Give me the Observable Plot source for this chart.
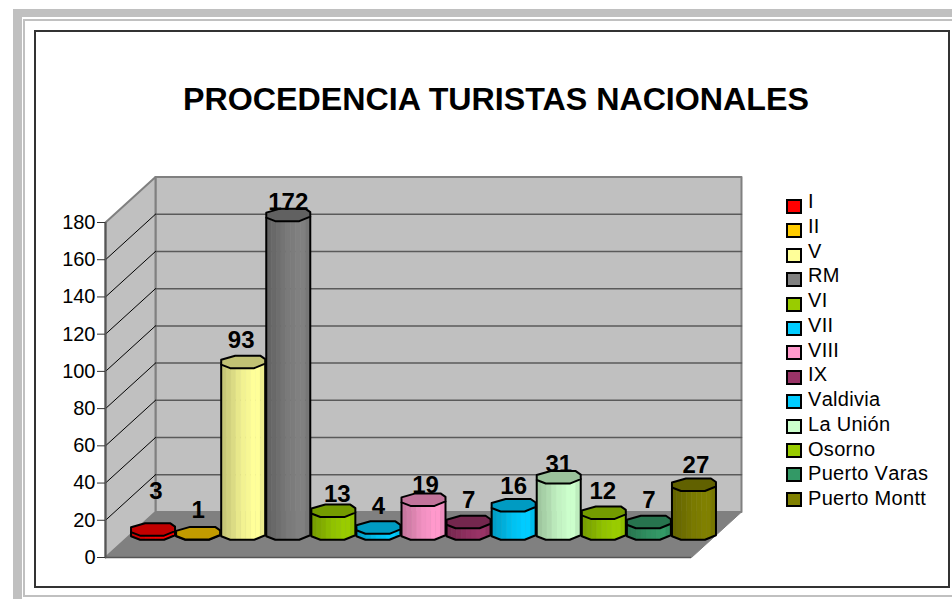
<!DOCTYPE html>
<html>
<head>
<meta charset="utf-8">
<script src="https://cdn.jsdelivr.net/npm/d3@7"></script>
<script src="https://cdn.jsdelivr.net/npm/@observablehq/plot@0.6"></script>
<style>
  html, body { margin: 0; padding: 0; background: #fff; }
  body { width: 952px; height: 599px; position: relative; overflow: hidden; font-family: "Liberation Sans", Arial, sans-serif; }
  .abs { position: absolute; box-sizing: border-box; }
  #chart svg { display: block; }
</style>
</head>
<body>
<div class="abs" style="left:13px;top:9px;width:939px;height:8px;background:#c0c0c0"></div>
<div class="abs" style="left:13px;top:9px;width:9px;height:590px;background:#c0c0c0"></div>
<div class="abs" style="left:23px;top:19px;width:929px;height:2px;background:#c0c0c0"></div>
<div class="abs" style="left:23px;top:19px;width:2px;height:578px;background:#c0c0c0"></div>
<div class="abs" style="left:23px;top:595px;width:929px;height:2px;background:#c0c0c0"></div>
<div class="abs" style="left:34px;top:30px;width:916px;height:558px;border:2px solid #333"></div>
<div id="chart" class="abs" style="left:0;top:0"></div>
<div id="title" class="abs" style="left:183px;top:80px;width:626px;text-align:center;white-space:nowrap;font-weight:bold;font-size:32.2px;line-height:38px;color:#000">PROCEDENCIA TURISTAS NACIONALES</div>
<div id="legend"></div>
<script>
const categories = ["I","II","V","RM","VI","VII","VIII","IX","Valdivia","La Unión","Osorno","Puerto Varas","Puerto Montt"];
const values = [3,1,93,172,13,4,19,7,16,31,12,7,27];
const colors = ["#FF0000","#FFCC00","#FFFF99","#808080","#99CC00","#00CCFF","#FF99CC","#993366","#00CCFF","#CCFFCC","#99CC00","#339966","#808000"];
const yTicks = [0,20,40,60,80,100,120,140,160,180];

// Oblique projection of the 3D box, in scale units
const slotPx = 586 / 13, unitPx = 335 / 180;
const depthX = 50 / slotPx, depthY = 45.5 / unitPx;
const nSlots = categories.length, yMax = 180;

// Outline of a column's cross-section, offsets in pixels from its centre
const back = [[-22,-2],[-8,-6],[17,-6],[22,-2.5]];
const front = [[22,2],[11,6.5],[-13,6.5],[-22,3]];
const baseLift = 1.5;
const shades = [.78,.82,.86,.91,.95,.97,1,1,.93];
const frontY = d3.scaleLinear().domain(front.map(d => d[0]).reverse()).range(front.map(d => d[1]).reverse());

const P = (i, v, ox = 0, oy = 0) => ({
  x: i + .5 + depthX / 2 + ox / slotPx,
  y: v + depthY / 2 - oy / unitPx
});
const poly = (pts, o) => Plot.line([...pts, pts[0]], {x: "x", y: "y", curve: "linear-closed", ...o});
const shade = (c, k) => { const r = d3.rgb(c); return d3.rgb(r.r * k, r.g * k, r.b * k).formatHex(); };

const bx = (x, y) => ({x, y});
const marks = [
  poly([bx(depthX,depthY),bx(nSlots+depthX,depthY),bx(nSlots+depthX,yMax+depthY),bx(depthX,yMax+depthY)], {fill:"#c0c0c0", stroke:"#808080", strokeWidth:2}),
  poly([bx(0,0),bx(0,yMax),bx(depthX,yMax+depthY),bx(depthX,depthY)], {fill:"#c0c0c0", stroke:"#808080", strokeWidth:2}),
  poly([bx(0,0),bx(nSlots,0),bx(nSlots+depthX,depthY),bx(depthX,depthY)], {fill:"#808080", stroke:"#808080", strokeWidth:1})
];
yTicks.slice(1, -1).forEach(t => {
  marks.push(Plot.line([bx(depthX,t+depthY),bx(nSlots+depthX,t+depthY)], {x:"x",y:"y",stroke:"#5a5a5a",strokeWidth:1.5}));
});
yTicks.slice(1, -1).forEach(t => {
  marks.push(Plot.line([bx(0,t),bx(depthX,t+depthY)], {x:"x",y:"y",stroke:"#000",strokeWidth:1}));
});
marks.push(Plot.ruleX([0], {y1:0, y2:yMax, stroke:"#555", strokeWidth:2}));
marks.push(Plot.ruleY([0], {x1:0, x2:nSlots, stroke:"#555", strokeWidth:1.5}));

values.forEach((v, i) => {
  const c = colors[i], n = shades.length;
  const edges = d3.range(n + 1).map(k => -22 + 44 * k / n);
  for (let k = 0; k < n; k++) {
    const a = edges[k], b = edges[k + 1];
    marks.push(poly([P(i,v,a,frontY(a)),P(i,v,b,frontY(b)),P(i,0,b,frontY(b)-baseLift),P(i,0,a,frontY(a)-baseLift)],
      {fill: shade(c, shades[k]), stroke: shade(c, shades[k]), strokeWidth: .5}));
  }
  const bottom = front.map(([a, b]) => P(i,0,a,b-baseLift));
  marks.push(Plot.line([P(i,v,-22,3),...bottom.slice().reverse(),P(i,v,22,2)],
    {x:"x",y:"y",stroke:"#000",strokeWidth:2,fill:"none",curve:"linear"}));
  marks.push(poly([...back, ...front].map(([a, b]) => P(i,v,a,b)),
    {fill: shade(c, .76), stroke:"#000", strokeWidth:2}));
});

// Data labels: hand placement in pixels, as in the original chart
const labelShift = {I:[3,-17],II:[0,-2],V:[-2,0],RM:[0,9],VI:[4,5],VII:[0,0],VIII:[2,7],IX:[0,0],Valdivia:[0,2],"La Unión":[0,8],Osorno:[-1,0],"Puerto Varas":[0,0],"Puerto Montt":[2,2]};
const labelRows = values.map((v, i) => {
  const [sx, sy] = labelShift[categories[i]];
  const p = P(i, v, sx, -13 + sy - 8);
  return {x: p.x, y: p.y, text: String(v)};
});
marks.push(Plot.text(labelRows, {x:"x",y:"y",text:"text",fontSize:24,fontWeight:"bold",fill:"#000"}));
marks.push(Plot.axisY({ticks: yTicks, tickSize: 8, tickPadding: 2, fontSize: 20, stroke:"#333", fill:"#000", tickFormat: d => String(d), label: null}));

const plot = Plot.plot({
  width: 952, height: 599,
  marginLeft: 105, marginRight: 261, marginTop: 222, marginBottom: 42,
  x: {type:"linear", domain:[0,nSlots], axis:null},
  y: {domain:[0,yMax], axis:null},
  style: {fontFamily:'"Liberation Sans", Arial, sans-serif', background:"transparent", overflow:"visible"},
  marks
});
document.getElementById("chart").appendChild(plot);

const legend = document.getElementById("legend");
categories.forEach((name, i) => {
  const sw = document.createElement("div");
  sw.className = "abs";
  sw.style.cssText = `left:786px;top:${199 + 24.4 * i}px;width:16px;height:15px;background:${colors[i]};border:2px solid #000`;
  const tx = document.createElement("div");
  tx.className = "abs";
  tx.textContent = name;
  tx.style.cssText = `left:808px;top:${190 + 24.75 * i}px;font-size:20px;line-height:22px;color:#000;white-space:nowrap;letter-spacing:.3px;font-kerning:none`;
  legend.append(sw, tx);
});
</script>
</body>
</html>
